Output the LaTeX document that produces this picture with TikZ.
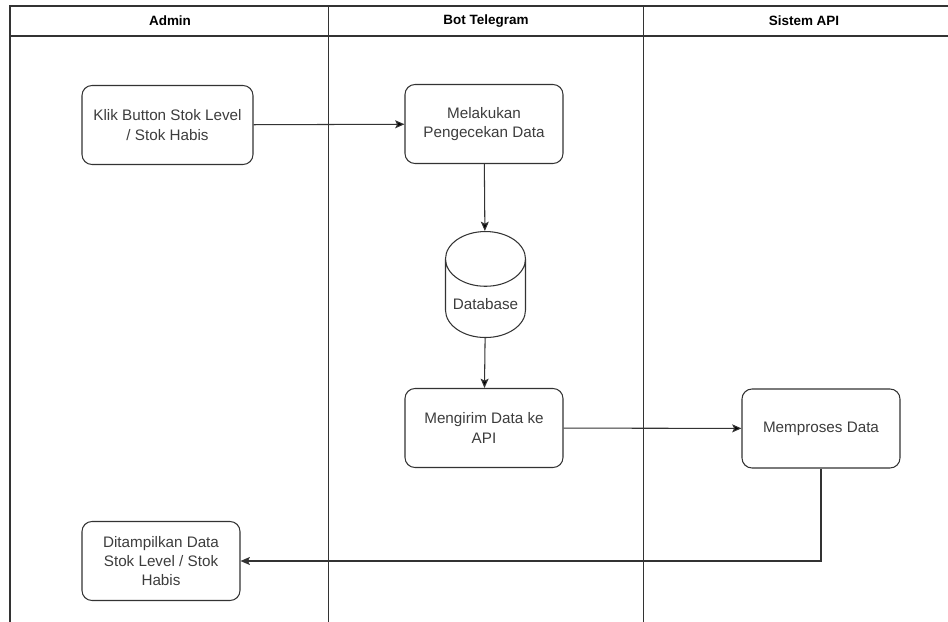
\documentclass[tikz,border=0pt]{standalone}
\usepackage{fontspec}
\setmainfont{Liberation Sans}
\usetikzlibrary{shapes,arrows,arrows.meta,positioning}
\definecolor{line}{RGB}{51,51,51}
\definecolor{txt}{RGB}{60,60,60}
\tikzstyle{lane} = [draw=line, line width=1.3pt]
\tikzstyle{sep} = [draw=line, line width=0.8pt]
\tikzstyle{head} = [text=black, font=\fontsize{11.5}{14}\selectfont\bfseries]
\tikzstyle{proc} = [rectangle, rounded corners=3mm, draw=line, line width=0.9pt, text=txt, align=center, font=\fontsize{13}{16.5}\selectfont, minimum width=47.4mm, minimum height=23.7mm]
\tikzstyle{db} = [cylinder, shape border rotate=90, aspect=0.75, draw=line, line width=0.9pt, text=txt, font=\fontsize{13}{16.5}\selectfont, minimum width=24mm, minimum height=31.8mm]
\tikzstyle{tedge}  = [draw=line, line width=0.9pt, >={Stealth[length=2.8mm,width=2.4mm,inset=0.6mm]}, ->]

\begin{document}
\begin{tikzpicture}[x=0.3mm, y=-0.3mm]
\useasboundingbox (0,0) rectangle (948,622);

% swimlanes =============================
\draw[lane] (948,6) -| (10,622);
\draw[lane] (10,36) -- (948,36);
\draw[sep] (328,6) -- (328,622);
\draw[sep] (643,6) -- (643,622);
\node[head] (admin) at (170,21) {Admin};
\node[head] (bot) at (486,21) {Bot Telegram};
\node[head] (api) at (804,21) {Sistem API};

% steps
\node[proc, minimum width=51.3mm] (klik) at (167.5,125) {Klik Button Stok Level\\/ Stok Habis};
\node[proc] (cek) at (484,124) {Melakukan\\Pengecekan Data};
\node[db, anchor=north] (database) at (485.5,231) {\raisebox{-3.2mm}{Database}};
\node[proc] (kirim) at (484,428) {Mengirim Data ke\\API};
\node[proc] (proses) at (821,428.5) {Memproses Data};
\node[proc] (tampil) at (161,561) {Ditampilkan Data\\Stok Level / Stok\\Habis};

% edges
\path[tedge] (klik) edge (cek);
\path[tedge] (cek) edge (database);
\path[tedge] (database) edge (kirim);
\path[tedge] (kirim) edge (proses);
\draw[tedge] (proses.south) |- (tampil.east);

\end{tikzpicture}
\end{document}
